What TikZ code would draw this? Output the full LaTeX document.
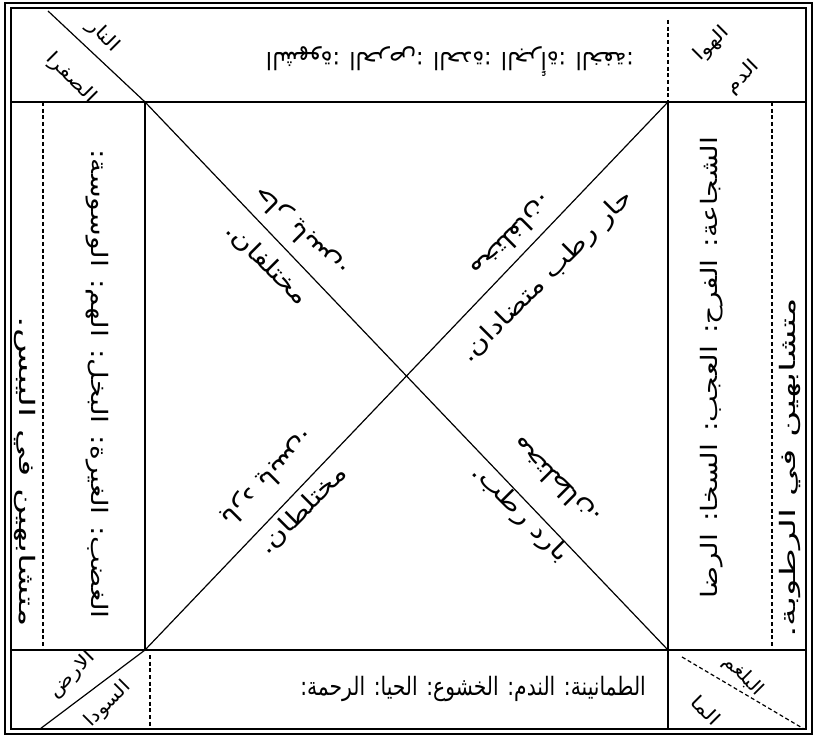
\documentclass[tikz,border=0pt]{standalone}
\usepackage{graphicx}
\usepackage{fontspec}
\newfontfamily\arabicfont[Script=Arabic]{DejaVu Sans}
\TeXXeTstate=1
\newcommand{\arsz}[1]{\fontsize{#1}{#1}\arabicfont}
\begin{document}
\begin{tikzpicture}[x=0.75pt,y=-0.75pt,
  thin/.style={line width=0.9pt},
  frame/.style={line width=1.8pt},
  lbl/.style={inner sep=0pt}]
\useasboundingbox (0,0) rectangle (817,737);
% outer frame
\draw[frame] (5,3) rectangle (812,734);
\draw[thin] (11,8) rectangle (806,729);
% side strips
\draw[thin,densely dashed] (43,102) -- (43,650);
\draw[thin,densely dashed] (772,102) -- (772,650);
% bands
\draw[thin] (11,102) -- (806,102);
\draw[thin] (11,650) -- (806,650);
% inner square
\coordinate (tl) at (145,102);
\coordinate (tr) at (668,102);
\coordinate (bl) at (145,650);
\coordinate (br) at (668,650);
\draw[thin] (tl) -- (bl);
\draw[thin] (tr) -- (br);
\draw[thin] (tl) -- (br);
\draw[thin] (tr) -- (bl);
% corner dividers
\coordinate (tla) at (48,11);
\draw[thin] (tla) -- (tl);
\coordinate (trt) at (668,20);
\draw[thin,densely dashed] (trt) -- (tr);
\coordinate (bla) at (40,729);
\draw[thin] (bl) -- (bla);
\coordinate (blv) at (150,655);
\coordinate (blw) at (150,729);
\draw[thin,densely dashed] (blv) -- (blw);
\coordinate (brv) at (668,729);
\draw[thin] (br) -- (brv);
\coordinate (brd) at (682,657);
\coordinate (bra) at (804,729);
\draw[thin,densely dashed] (brd) -- (bra);
% band texts
\node[lbl,rotate=180] (top) at (450,62) {\arsz{18}\scalebox{0.93}[1]{\beginR الشهوة: الحرص: الحدة: الجرأة: الخفة:\endR}};
\node[lbl] (bottom) at (473,689) {\arsz{19}\scalebox{0.8}[1]{\beginR الطمانينة: الندم: الخشوع: الحيا: الرحمة:\endR}};
\node[lbl,rotate=-90] (left) at (97,384) {\arsz{17}\scalebox{1.25}[1]{\beginR الغضب: الغيرة: البخل: الهم: الوسوسة:\endR}};
\node[lbl,rotate=90] (right) at (712,368) {\arsz{17}\scalebox{1.25}[1]{\beginR الشجاعة: الفرح: العجب: السخا: الرضا\endR}};
\node[lbl,rotate=-90] (lout) at (25,472) {\arsz{16}\scalebox{1.7}[1]{\beginR متشابهين في اليبس.\endR}};
\node[lbl,rotate=90] (rout) at (790,468) {\arsz{16}\scalebox{1.7}[1]{\beginR متشابهين في الرطوبة.\endR}};
% corner texts
\node[lbl,rotate=-45] (nar) at (103,36) {\arsz{14}\scalebox{1.2}[1]{\beginR النار\endR}};
\node[lbl,rotate=-45] (safra) at (71,78) {\arsz{14}\scalebox{1.2}[1]{\beginR الصفرا\endR}};
\node[lbl,rotate=45] (hawa) at (712,44) {\arsz{14}\scalebox{1.2}[1]{\beginR الهوا\endR}};
\node[lbl,rotate=45] (dam) at (743,77) {\arsz{14}\scalebox{1.2}[1]{\beginR الدم\endR}};
\node[lbl,rotate=45] (ard) at (72,675) {\arsz{14}\scalebox{1.2}[1]{\beginR الارض\endR}};
\node[lbl,rotate=45] (sawda) at (108,704) {\arsz{14}\scalebox{1.1}[1]{\beginR السودا\endR}};
\node[lbl,rotate=-45] (balgham) at (743,676) {\arsz{14}\scalebox{1.1}[1]{\beginR البلغم\endR}};
\node[lbl,rotate=-45] (maa) at (706,710) {\arsz{14}\scalebox{1.2}[1]{\beginR الما\endR}};
% diagonal texts
\node[lbl,rotate=-45] (ul1) at (267,264) {\arsz{18}\scalebox{1.2}[1]{\beginR مختلفان.\endR}};
\node[lbl,rotate=135] (ul2) at (301,232) {\arsz{18}\scalebox{1.2}[1]{\beginR حار يابس.\endR}};
\node[lbl,rotate=45] (ur1) at (547,277) {\arsz{18}\scalebox{1.2}[1]{\beginR حار رطب متضادان.\endR}};
\node[lbl,rotate=-135] (ur2) at (512,236) {\arsz{18}\scalebox{1.2}[1]{\beginR مختلفان.\endR}};
\node[lbl,rotate=-135] (ll1) at (268,478) {\arsz{18}\scalebox{1.2}[1]{\beginR بارد يابس.\endR}};
\node[lbl,rotate=45] (ll2) at (303,510) {\arsz{18}\scalebox{1.2}[1]{\beginR مختلطان.\endR}};
\node[lbl,rotate=-45] (lr1) at (520,514) {\arsz{18}\scalebox{1.2}[1]{\beginR بارد رطب.\endR}};
\node[lbl,rotate=135] (lr2) at (556,481) {\arsz{18}\scalebox{1.2}[1]{\beginR مختلطان.\endR}};
\end{tikzpicture}
\end{document}
